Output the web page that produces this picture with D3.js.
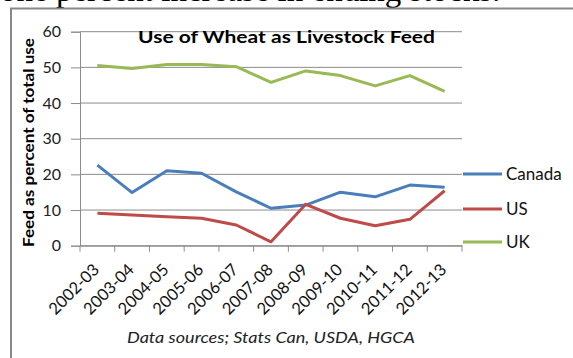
<!DOCTYPE html>
<html>
<head>
<meta charset="utf-8">
<script src="https://cdn.jsdelivr.net/npm/d3@7"></script>
<style>
  body { margin: 0; background: #fff; }
  svg { display: block; }
</style>
</head>
<body>
<svg id="chart" width="573" height="358"></svg>
<script>
// data
var years = ['2002-03','2003-04','2004-05','2005-06','2006-07','2007-08',
             '2008-09','2009-10','2010-11','2011-12','2012-13'];
var canada = [22.6, 14.9, 21.0, 20.3, 15.1, 10.5, 11.4, 15.0, 13.7, 17.0, 16.4];
var us     = [9.1, 8.6, 8.1, 7.7, 5.8, 1.1, 11.6, 7.7, 5.6, 7.4, 15.4];
var uk     = [50.5, 49.7, 50.8, 50.8, 50.2, 45.8, 49.0, 47.7, 44.8, 47.7, 43.3];
var yTicks = [0, 10, 20, 30, 40, 50, 60];

var series = [
  {name:'Canada', values:canada, color:'#4a7ebb'},
  {name:'US', values:us, color:'#be4b48'},
  {name:'UK', values:uk, color:'#98b954'}
];

var svg = d3.select('#chart');

// page text cut off above the chart
svg.append('text')
   .attr('x', 0).attr('y', 1)
   .attr('font-family', 'Liberation Serif')
   .attr('font-size', 33)
   .attr('fill', '#000')
   .text('one percent increase in ending stocks.');

// frame
svg.append('path')
   .attr('d', 'M11,358 V8.5 H573')
   .attr('fill', 'none')
   .attr('stroke', '#888')
   .attr('stroke-width', 2);

var margin = {left:80, top:31.7, right:111, bottom:112.3};
var width = 573 - margin.left - margin.right;
var height = 358 - margin.top - margin.bottom;

var g = svg.append('g')
           .attr('transform', 'translate(' + margin.left + ',' + margin.top + ')');

var x = d3.scaleBand().domain(years).range([0, width]);
var y = d3.scaleLinear().domain([0, 60]).range([height, 0]);

// gridlines
g.selectAll('.grid').data(yTicks).enter()
 .append('line')
 .attr('x1', 0).attr('x2', width)
 .attr('y1', d => y(d)).attr('y2', d => y(d))
 .attr('stroke', '#8c8c8c').attr('stroke-width', 1);

// y axis
var yAxis = d3.axisLeft(y).tickValues(yTicks).tickSize(9).tickPadding(10);
var ya = g.append('g').call(yAxis);
ya.select('.domain').attr('stroke', '#8c8c8c');
ya.selectAll('line').attr('stroke', '#8c8c8c');
ya.selectAll('text')
  .attr('font-family', 'Lato').attr('font-size', 16).attr('fill', '#222');

// x axis
var xAxis = d3.axisBottom(x).tickSize(0).tickFormat('');
var xa = g.append('g').attr('transform', 'translate(0,' + height + ')').call(xAxis);
xa.select('.domain').attr('stroke', '#8c8c8c');
var edges = years.map(d => x(d)).concat([width]);
xa.selectAll('.edge').data(edges).enter()
  .append('line')
  .attr('x1', d => d).attr('x2', d => d)
  .attr('y1', 0).attr('y2', 6)
  .attr('stroke', '#8c8c8c');

xa.selectAll('.lab').data(years).enter()
  .append('text')
  .attr('transform', d => 'translate(' + (x(d) + x.bandwidth() / 2 + 3) + ',25) rotate(-45)')
  .attr('text-anchor', 'end')
  .attr('font-family', 'Lato').attr('font-size', 16.5).attr('fill', '#111')
  .text(d => d);

// lines
var line = d3.line()
  .x((d, i) => x(years[i]) + x.bandwidth() / 2)
  .y(d => y(d));

g.selectAll('.series').data(series).enter()
 .append('path')
 .attr('d', d => line(d.values))
 .attr('fill', 'none')
 .attr('stroke', d => d.color)
 .attr('stroke-width', 3)
 .attr('stroke-linejoin', 'round');

// title
svg.append('text')
   .attr('x', 138).attr('y', 43)
   .attr('font-family', 'Lato').attr('font-weight', 'bold')
   .attr('font-size', 17.5).attr('fill', '#000')
   .attr('textLength', 297).attr('lengthAdjust', 'spacingAndGlyphs')
   .text('Use of Wheat as Livestock Feed');

// y label
svg.append('text')
   .attr('transform', 'translate(33.5,247) rotate(-90)')
   .attr('font-family', 'Lato').attr('font-weight', 'bold')
   .attr('font-size', 16).attr('fill', '#000')
   .attr('textLength', 209).attr('lengthAdjust', 'spacingAndGlyphs')
   .text('Feed as percent of total use');

// legend
var legY = [174, 209, 242];
var leg = svg.selectAll('.leg').data(series).enter()
  .append('g')
  .attr('transform', (d, i) => 'translate(463,' + legY[i] + ')');
leg.append('line')
   .attr('x1', 0).attr('x2', 39)
   .attr('stroke', d => d.color).attr('stroke-width', 3);
leg.append('text')
   .attr('x', 43).attr('y', 6)
   .attr('font-family', 'Lato').attr('font-size', 17).attr('fill', '#111')
   .text(d => d.name);

// source
svg.append('text')
   .attr('x', 127).attr('y', 343)
   .attr('font-family', 'Lato').attr('font-style', 'italic')
   .attr('font-size', 15).attr('fill', '#222')
   .attr('textLength', 288).attr('lengthAdjust', 'spacingAndGlyphs')
   .text('Data sources; Stats Can, USDA, HGCA');
</script>
</body>
</html>
